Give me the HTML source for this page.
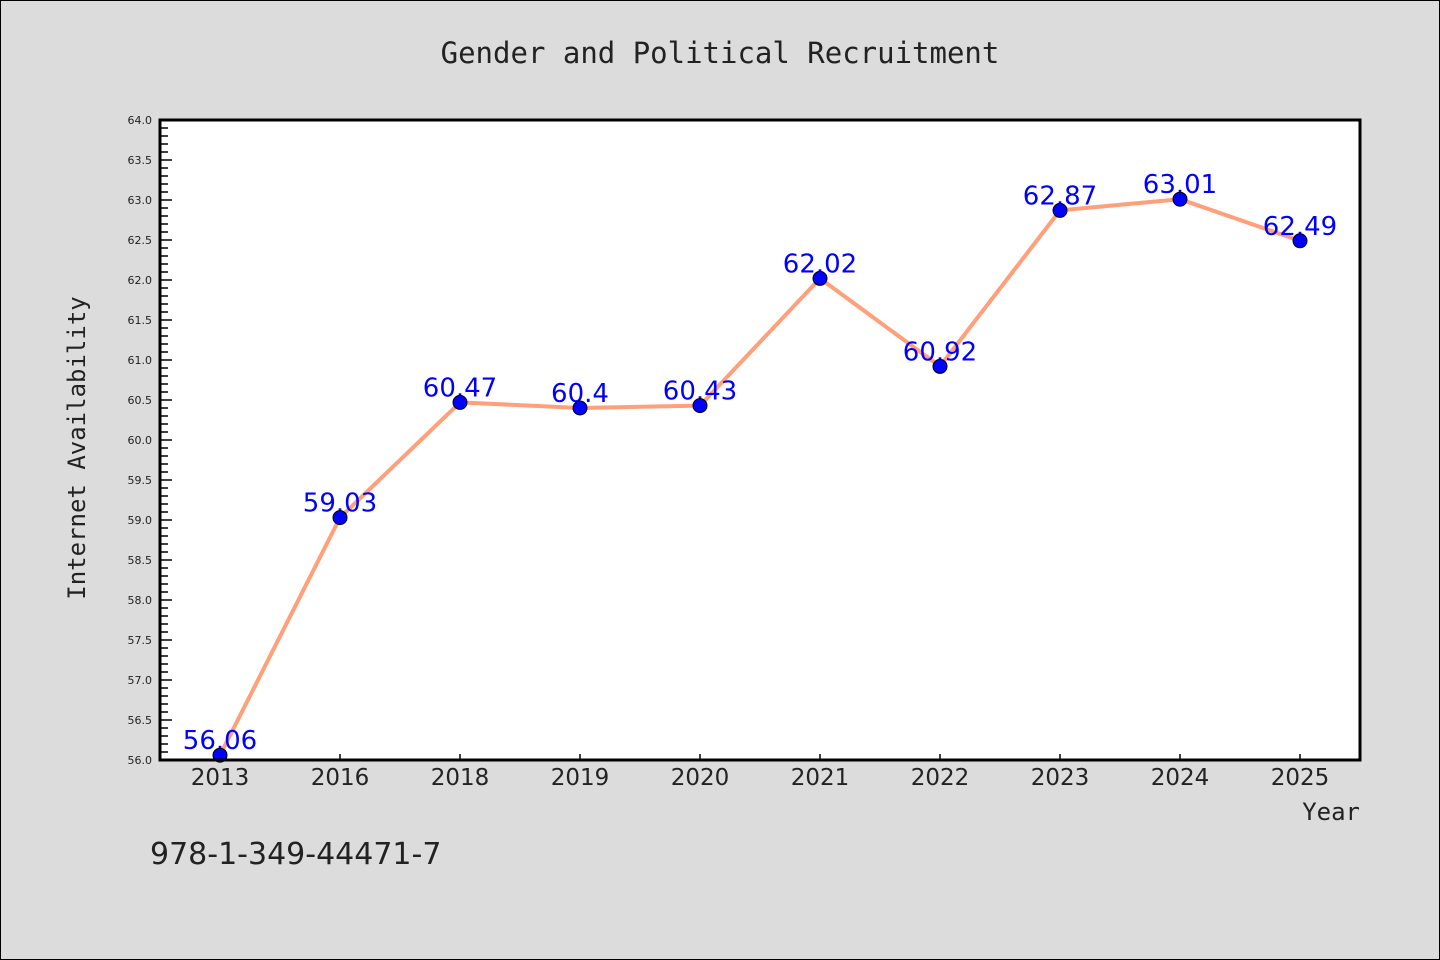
<!DOCTYPE html>
<html><head><meta charset="utf-8"><style>
html,body{margin:0;padding:0;background:#dcdcdc;}
svg{display:block;}
</style></head><body>
<svg width="1440" height="960" xmlns="http://www.w3.org/2000/svg">
<rect x="0.5" y="0.5" width="1439" height="959" fill="#dcdcdc" stroke="#000"/>
<text x="720" y="63" text-anchor="middle" font-family="'DejaVu Sans Mono','Liberation Mono',monospace" font-size="29" fill="#222">Gender and Political Recruitment</text>
<rect x="160" y="120" width="1200" height="640" fill="#fff"/>
<g id="g-axes"></g>
<g id="g-line"></g>
<g id="g-labels"></g>
<g id="g-points"></g>
<rect x="160" y="120" width="1200" height="640" fill="none" stroke="#000" stroke-width="3"/>
<text transform="translate(85,448) rotate(-90)" text-anchor="middle" font-family="'DejaVu Sans Mono','Liberation Mono',monospace" font-size="24" fill="#222">Internet Availability</text>
<text x="1360" y="820" text-anchor="end" font-family="'DejaVu Sans Mono','Liberation Mono',monospace" font-size="24" fill="#222">Year</text>
<text x="150" y="864" font-family="'DejaVu Sans','Liberation Sans',sans-serif" font-size="30" fill="#222">978-1-349-44471-7</text>
</svg>
<script>
const categories=["2013","2016","2018","2019","2020","2021","2022","2023","2024","2025"];
const values=[56.06,59.03,60.47,60.4,60.43,62.02,60.92,62.87,63.01,62.49];
const valueLabels=["56.06","59.03","60.47","60.4","60.43","62.02","60.92","62.87","63.01","62.49"];
const yTicks=["56.0","56.5","57.0","57.5","58.0","58.5","59.0","59.5","60.0","60.5","61.0","61.5","62.0","62.5","63.0","63.5","64.0"];
const NS="http://www.w3.org/2000/svg";
const L=160,R=1360,T=120,B=760,yMin=56,yMax=64;
function xs(i){return L+(i+0.5)*(R-L)/categories.length;}
function ys(v){return B-(v-yMin)/(yMax-yMin)*(B-T);}
function mk(tag,a,parent){const e=document.createElementNS(NS,tag);for(const k in a)e.setAttribute(k,a[k]);parent.appendChild(e);return e;}
const ga=document.getElementById('g-axes');
for(let k=0;k<=80;k++){const v=yMin+k*0.1;const y=ys(v);const major=k%5===0;
 const t=mk('line',{x1:L,x2:L+(major?12:8),y1:y,y2:y,stroke:'#000','stroke-width':1.5},ga);
 
 }
yTicks.forEach(s=>{const y=ys(parseFloat(s));
 const t=mk('text',{x:L-8,y:y+4,'text-anchor':'end','font-family':"'DejaVu Sans','Liberation Sans',sans-serif",'font-size':11,fill:'#222'},ga);t.textContent=s;
 
 });
categories.forEach((c,i)=>{const x=xs(i);
 const t=mk('line',{x1:x,x2:x,y1:B,y2:B-6,stroke:'#000','stroke-width':1.5},ga);
 
 
 const l=mk('text',{x:x,y:B+25,'text-anchor':'middle','font-family':"'DejaVu Sans','Liberation Sans',sans-serif",'font-size':23,fill:'#222'},ga);l.textContent=c;
 
 });
const gl=document.getElementById('g-labels');
values.forEach((v,i)=>{const t=mk('text',{x:xs(i),y:ys(v)-6,'text-anchor':'middle','font-family':"'DejaVu Sans','Liberation Sans',sans-serif",'font-size':26,fill:'#0000ff'},gl);t.textContent=valueLabels[i];
 
 });
const line=mk('polyline',{points:values.map((v,i)=>xs(i)+','+ys(v)).join(' '),fill:'none',stroke:'#ffa07a','stroke-width':4,'stroke-linejoin':'round'},document.getElementById('g-line'));


const gp=document.getElementById('g-points');
values.forEach((v,i)=>{const c=mk('circle',{cx:xs(i),cy:ys(v),r:7,fill:'#0000ff',stroke:'#000','stroke-width':1},gp);
 
 });
</script>
</body></html>
